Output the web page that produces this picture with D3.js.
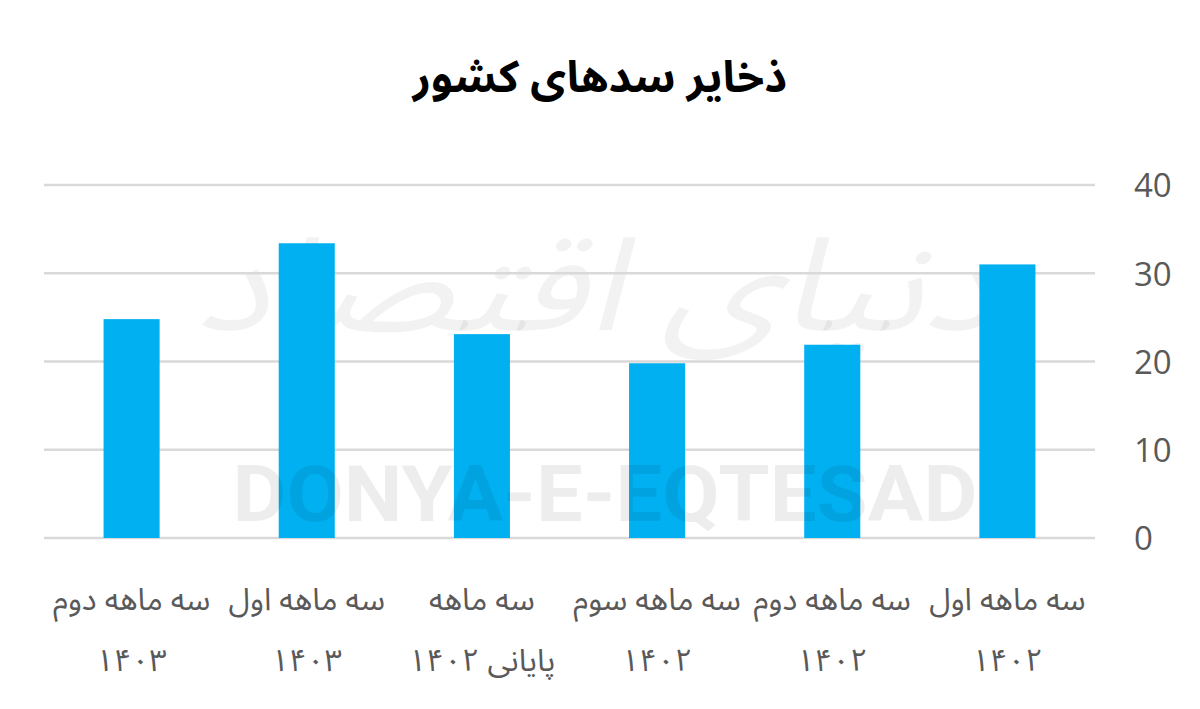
<!DOCTYPE html>
<html><head><meta charset="utf-8">
<script src="https://cdn.jsdelivr.net/npm/d3@7/dist/d3.min.js"></script>
<style>
html,body{margin:0;padding:0;background:#fff;}
svg{display:block;}
</style></head>
<body>
<svg id="chart" width="1200" height="709"></svg>
<script>
const title = "ذخایر سدهای کشور";
const categoriesLine1 = ["سه ماهه اول", "سه ماهه دوم", "سه ماهه سوم", "سه ماهه", "سه ماهه اول", "سه ماهه دوم"];
const categoriesLine2 = ["۱۴۰۲", "۱۴۰۲", "۱۴۰۲", "پایانی ۱۴۰۲", "۱۴۰۳", "۱۴۰۳"];
const values = [31.0, 21.9, 19.8, 23.1, 33.4, 24.8];
const yTicks = [0, 10, 20, 30, 40];

const svg = d3.select("#chart");
const plotLeft = 44, plotRight = 1095, plotTop = 185, plotBottom = 538;

const x = d3.scaleBand().domain(d3.range(values.length))
  .range([plotRight, plotLeft]).paddingInner(0.68).paddingOuter(0.34);
const y = d3.scaleLinear().domain([0, 40]).range([plotBottom, plotTop]);

// watermark calligraphy
svg.append("text").attr("x", 595).attr("y", 330)
  .attr("text-anchor", "middle")
  .attr("font-family", "'Noto Sans Arabic','DejaVu Sans',sans-serif")
  .attr("font-size", 130).attr("font-style", "italic")
  .attr("fill", "#000").attr("fill-opacity", 0.05)
  .attr("textLength", 800).attr("lengthAdjust", "spacingAndGlyphs")
  .text("دنیای اقتصاد");

// gridlines
svg.append("g").selectAll("line").data(yTicks).join("line")
  .attr("x1", plotLeft).attr("x2", plotRight)
  .attr("y1", d => y(d)).attr("y2", d => y(d))
  .attr("stroke", "#d9d9d9").attr("stroke-width", 2.5);

// bars
svg.append("g").selectAll("rect").data(values).join("rect")
  .attr("x", (d, i) => x(i)).attr("width", x.bandwidth())
  .attr("y", d => y(d)).attr("height", d => y(0) - y(d))
  .attr("fill", "#00b0f0");

// y axis labels (right)
const yAxis = d3.axisRight(y).tickValues(yTicks).tickSize(0).tickPadding(0);
const ga = svg.append("g").attr("transform", `translate(1134,0)`).call(yAxis);
ga.select(".domain").remove();
ga.selectAll("text").attr("font-family", "'Open Sans','Noto Sans',sans-serif")
  .attr("font-size", 33).attr("fill", "#595959").attr("text-anchor", "start").attr("dy", "0.36em");

// x labels
const xl = svg.append("g");
xl.selectAll("text.l1").data(categoriesLine1).join("text")
  .attr("class", "l1")
  .attr("x", (d, i) => x(i) + x.bandwidth() / 2).attr("y", 610)
  .attr("text-anchor", "middle").attr("direction", "rtl")
  .attr("font-family", "'Noto Sans Arabic','DejaVu Sans',sans-serif")
  .attr("font-size", 31).attr("fill", "#595959").text(d => d);
xl.selectAll("text.l2").data(categoriesLine2).join("text")
  .attr("class", "l2")
  .attr("x", (d, i) => x(i) + x.bandwidth() / 2).attr("y", 671)
  .attr("text-anchor", "middle").attr("direction", "rtl")
  .attr("font-family", "'Noto Sans Arabic','DejaVu Sans',sans-serif")
  .attr("font-size", 31).attr("fill", "#595959").text(d => d);

// title
svg.append("text").attr("x", 600).attr("y", 92)
  .attr("text-anchor", "middle").attr("direction", "rtl")
  .attr("font-family", "'Noto Sans Arabic','DejaVu Sans',sans-serif")
  .attr("font-weight", "bold").attr("font-size", 44).attr("fill", "#000")
  .text(title);

// latin watermark
svg.append("text").attr("x", 605).attr("y", 521)
  .attr("text-anchor", "middle")
  .attr("font-family", "'Liberation Sans Narrow','Roboto',sans-serif")
  .attr("font-weight", "bold").attr("font-size", 78)
  .attr("fill", "#000").attr("fill-opacity", 0.07)
  .attr("textLength", 745).attr("lengthAdjust", "spacingAndGlyphs")
  .text("DONYA-E-EQTESAD");
</script>
</body></html>
